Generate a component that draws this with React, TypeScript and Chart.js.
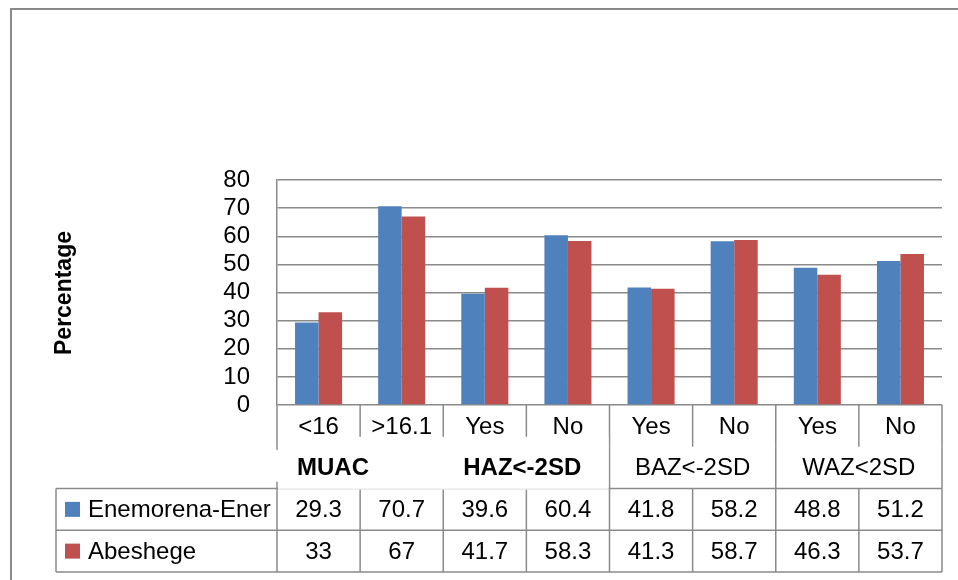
import { useEffect, useRef } from "react";
import { Chart, registerables } from "chart.js";

Chart.register(...registerables);

// Sub-categories along the x axis and the indicator each pair belongs to
const categories = ["<16", ">16.1", "Yes", "No", "Yes", "No", "Yes", "No"];
const groups = ["MUAC", "HAZ<-2SD", "BAZ<-2SD", "WAZ<2SD"];

// Percentages per district
const seriesNames = ["Enemorena-Ener", "Abeshege"];
const enemorenaEner = [29.3, 70.7, 39.6, 60.4, 41.8, 58.2, 48.8, 51.2];
const abeshege = [33, 67, 41.7, 58.3, 41.3, 58.7, 46.3, 53.7];
const seriesColors = ["#4F81BD", "#C0504D"];

const yMax = 80;
const yStep = 10;
const yTitle = "Percentage";

const FONT = "'Liberation Sans', Arial, sans-serif";
const LINE = "#8a8a8a";
const FS = 24;

const fmt = (v: number) => String(v);

// Data table drawn under the plot, aligned to the category scale
const dataTablePlugin = {
  id: "dataTable",
  beforeDraw(chart: any) {
    const { ctx } = chart;
    ctx.save();
    // outer chart frame
    ctx.strokeStyle = "#8a8a8a";
    ctx.lineWidth = 2;
    ctx.beginPath();
    ctx.moveTo(11, chart.height);
    ctx.lineTo(11, 9);
    ctx.lineTo(chart.width, 9);
    ctx.stroke();
    ctx.restore();
  },
  afterDraw(chart: any) {
    const { ctx, chartArea } = chart;
    const xs = chart.scales.x;
    const n = categories.length;
    const step = xs.getPixelForValue(1) - xs.getPixelForValue(0);
    const bound = (i: number) => xs.getPixelForValue(i) - step / 2;
    const center = (i: number) => xs.getPixelForValue(i);
    const rowH = 41.75;
    const top = chartArea.bottom;
    const r1 = top + rowH;
    const r2 = top + rowH * 2;
    const r3 = top + rowH * 3;
    const r4 = top + rowH * 4;
    const legendLeft = 56;

    ctx.save();
    ctx.strokeStyle = LINE;
    ctx.lineWidth = 1.5;
    const line = (x1: number, y1: number, x2: number, y2: number) => {
      ctx.beginPath();
      ctx.moveTo(x1, y1);
      ctx.lineTo(x2, y2);
      ctx.stroke();
    };

    // category row separators
    for (let i = 0; i <= n; i++) line(bound(i), top, bound(i), r1);
    // group row separators
    for (let g = 0; g <= groups.length; g++) line(bound(g * 2), r1, bound(g * 2), r2);
    // value rows grid
    line(legendLeft, r2, bound(n), r2);
    line(legendLeft, r3, bound(n), r3);
    line(legendLeft, r4, bound(n), r4);
    line(legendLeft, r2, legendLeft, r4);
    for (let i = 0; i <= n; i++) line(bound(i), r2, bound(i), r4);

    ctx.fillStyle = "#000";
    ctx.textBaseline = "middle";
    ctx.textAlign = "center";
    ctx.font = `${FS}px ${FONT}`;
    categories.forEach((c, i) => ctx.fillText(c, center(i), (top + r1) / 2 + 1));
    groups.forEach((g, k) => {
      const cx = (bound(k * 2) + bound(k * 2 + 2)) / 2;
      ctx.fillText(g, cx, (r1 + r2) / 2 + 1);
    });
    const rows = [enemorenaEner, abeshege];
    rows.forEach((vals, r) => {
      const cy = r2 + rowH * r + rowH / 2 + 1;
      vals.forEach((v, i) => ctx.fillText(fmt(v), center(i), cy));
      // legend key
      ctx.fillStyle = seriesColors[r];
      ctx.fillRect(65, cy - 8.5, 15, 15);
      ctx.fillStyle = "#000";
      ctx.textAlign = "left";
      ctx.fillText(seriesNames[r], 88, cy);
      ctx.textAlign = "center";
    });

    // text box with bold labels for the first two indicators
    ctx.fillStyle = "#fff";
    ctx.fillRect(bound(0) + 1, r1 - 10, bound(4) - bound(0) - 2, rowH + 11);
    ctx.fillRect(bound(0) - 2, r1 + 3, 4, 32);
    ctx.strokeStyle = "#e4e4e4";
    ctx.lineWidth = 1;
    line(bound(0) + 1, r2 + 0.5, bound(4) - 1, r2 + 0.5);
    ctx.fillStyle = "#000";
    ctx.font = `bold ${FS}px ${FONT}`;
    ctx.textAlign = "left";
    ctx.fillText(groups[0], bound(0) + 20, (r1 + r2) / 2 + 1);
    ctx.fillText(groups[1], bound(2) + 20, (r1 + r2) / 2 + 1);

    // y axis title
    ctx.font = `bold 23px ${FONT}`;
    ctx.translate(65, 293);
    ctx.rotate(-Math.PI / 2);
    ctx.textAlign = "center";
    ctx.fillText(yTitle, 0, 0);
    ctx.restore();
  },
};

export default function App() {
  const ref = useRef<HTMLCanvasElement | null>(null);

  useEffect(() => {
    if (!ref.current) return;
    const chart = new Chart(ref.current, {
      type: "bar",
      data: {
        labels: categories,
        datasets: [
          {
            label: seriesNames[0],
            data: enemorenaEner,
            backgroundColor: seriesColors[0],
            categoryPercentage: 0.566,
            barPercentage: 1,
          },
          {
            label: seriesNames[1],
            data: abeshege,
            backgroundColor: seriesColors[1],
            categoryPercentage: 0.566,
            barPercentage: 1,
          },
        ],
      },
      options: {
        animation: false,
        responsive: false,
        maintainAspectRatio: false,
        layout: { padding: { left: 0, top: 180, right: 16, bottom: 175 } },
        plugins: {
          legend: { display: false },
          tooltip: { enabled: false },
        },
        scales: {
          x: { display: false },
          y: {
            min: 0,
            max: yMax,
            ticks: {
              stepSize: yStep,
              autoSkip: false,
              color: "#000",
              font: { family: FONT, size: FS },
              padding: 27,
            },
            grid: { color: LINE, lineWidth: 1.5, drawTicks: false },
            border: { display: true, color: LINE, width: 1.5 },
            afterFit: (scale: any) => {
              scale.width = 277;
            },
          },
        },
      },
      plugins: [dataTablePlugin],
    });
    return () => chart.destroy();
  }, []);

  return (
    <div style={{ position: "absolute", left: 0, top: 0, width: 958, height: 580, background: "#fff" }}>
      <canvas ref={ref} width={958} height={580} style={{ display: "block" }} />
    </div>
  );
}
